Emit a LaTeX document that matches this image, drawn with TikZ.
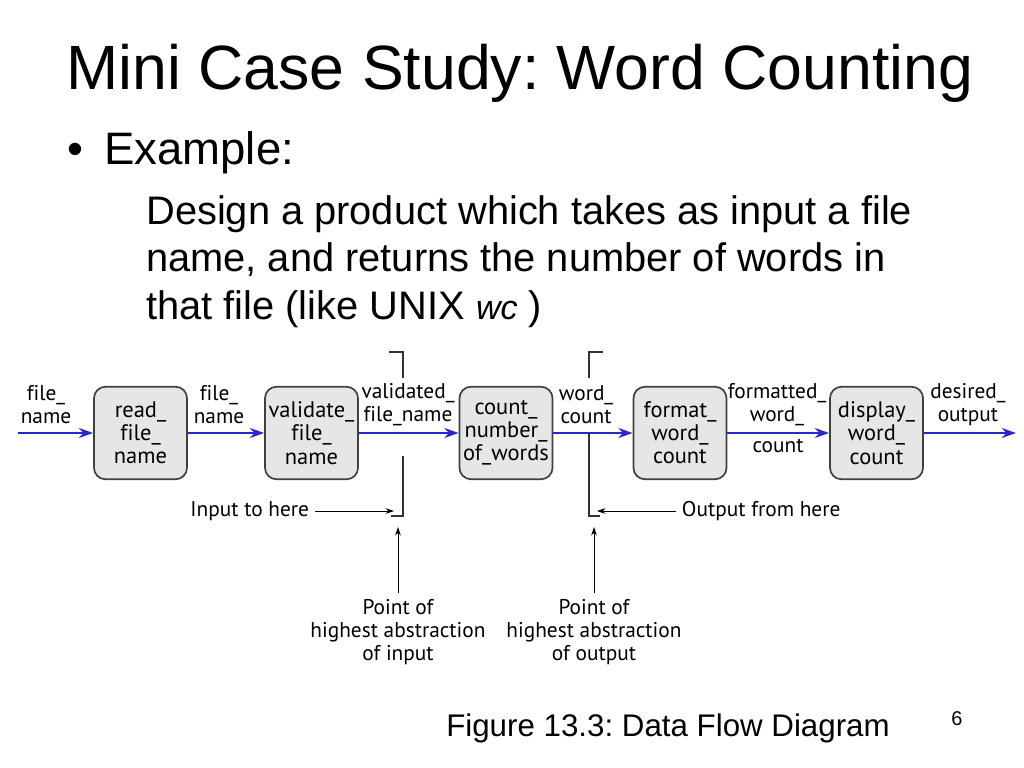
\documentclass[tikz,border=0pt]{standalone}
\usepackage{fontspec}
\setmainfont{Liberation Sans}
\newfontfamily\dfdfont[Ligatures=NoCommon]{PT Sans}
\usetikzlibrary{arrows.meta}
\frenchspacing

\definecolor{flowblue}{RGB}{40,40,200}
\definecolor{boxgray}{RGB}{230,230,230}

\tikzset{
  process/.style={draw=black!75, fill=boxgray, line width=1.2pt, rounded corners=8pt,
    minimum width=65.4pt, minimum height=65pt, inner sep=0pt, align=center,
    font=\dfdfont\fontsize{15.8}{16.3}\selectfont},
  flow/.style={flowblue, line width=1.8pt, -{Stealth[length=10pt,width=7pt]}},
  lbl/.style={align=center, inner sep=0pt, font=\dfdfont\fontsize{15}{16.2}\selectfont},
  note/.style={lbl, inner sep=4pt},
  bracket/.style={black!80, line width=0.9pt},
  pointer/.style={black, line width=0.6pt, -{Stealth[length=6pt,width=4pt]}},
}

\begin{document}
\begin{tikzpicture}[x=0.703125pt, y=-0.703125pt]
\useasboundingbox (0,0) rectangle (1024,768);

% slide text
\node[anchor=base, inner sep=0pt, font=\fontsize{44}{52}\selectfont] (title) at (520,90) {Mini Case Study: Word Counting};
\node[anchor=base, inner sep=0pt, font=\fontsize{32}{38}\selectfont] (bullet) at (75,165) {\textbullet};
\node[anchor=base west, inner sep=0pt, font=\fontsize{32}{38}\selectfont] (example) at (104,165) {Example:};
\node[anchor=base west, inner sep=0pt, font=\fontsize{28}{34}\selectfont] (line1) at (146,225) {Design a product which takes as input a file};
\node[anchor=base west, inner sep=0pt, font=\fontsize{28}{34}\selectfont] (line2) at (146,272) {name, and returns the number of words in};
\node[anchor=base west, inner sep=0pt, font=\fontsize{28}{34}\selectfont] (line3) at (146,319) {that file (like UNIX \textit{\fontsize{24}{28}\selectfont wc} )};

% processes
\node[process] (read) at (140.5,433) {read\_\\file\_\\name};
\node[process] (validate) at (311.5,433) {validate\_\\file\_\\name};
\node[process] (count) at (506,433) {count\_\\number\_\\of\_words};
\node[process] (format) at (680,433) {format\_\\word\_\\count};
\node[process] (display) at (876.5,433) {display\_\\word\_\\count};

\coordinate (src) at (18,433);
\coordinate (sink) at (1016,433);

% data flows
\draw[flow] (src) -- (read);
\draw[flow] (read) -- (validate);
\draw[flow] (validate) -- (count);
\draw[flow] (count) -- (format);
\draw[flow] (format) -- (display);
\draw[flow] (display) -- (sink);

\node[lbl] (fn0) at (46,405) {file\_\\name};
\node[lbl] (fn1) at (219,405) {file\_\\name};
\node[lbl] (vfn) at (408,405) {validated\_\\file\_name};
\node[lbl] (wc) at (586,405) {word\_\\count};
\node[lbl] (fwc) at (777,405) {formatted\_\\word\_};
\node[lbl] (fwc2) at (778,446) {count};
\node[lbl] (dout) at (968,405) {desired\_\\output};

% abstraction brackets
\draw[bracket] (389,352) -- (403,352) -- (403,378);
\draw[bracket] (403,456) -- (403,516) -- (391,516);
\draw[bracket] (603,352) -- (589,352) -- (589,378);
\draw[bracket] (589,433) -- (589,516) -- (600,516);

\node[note, anchor=east] (inhere) at (315,511) {Input to here};
\coordinate (intip) at (394,511);
\draw[pointer] (inhere) -- (intip);
\node[note, anchor=west] (outhere) at (676,511) {Output from here};
\coordinate (outtip) at (597,511);
\draw[pointer] (outhere) -- (outtip);

\node[note, anchor=north] (inpt) at (398,593) {Point of\\highest abstraction\\of input};
\coordinate (inup) at (398,527);
\draw[pointer] (inpt) -- (inup);
\node[note, anchor=north] (outpt) at (594,593) {Point of\\highest abstraction\\of output};
\coordinate (outup) at (594,527);
\draw[pointer] (outpt) -- (outup);

% caption
\node[anchor=base west, inner sep=0pt, font=\fontsize{22}{26}\selectfont] (caption) at (446,736) {Figure 13.3: Data Flow Diagram};
\node[anchor=base, inner sep=0pt, font=\fontsize{14}{16}\selectfont] (page) at (957,725) {6};
\end{tikzpicture}
\end{document}
